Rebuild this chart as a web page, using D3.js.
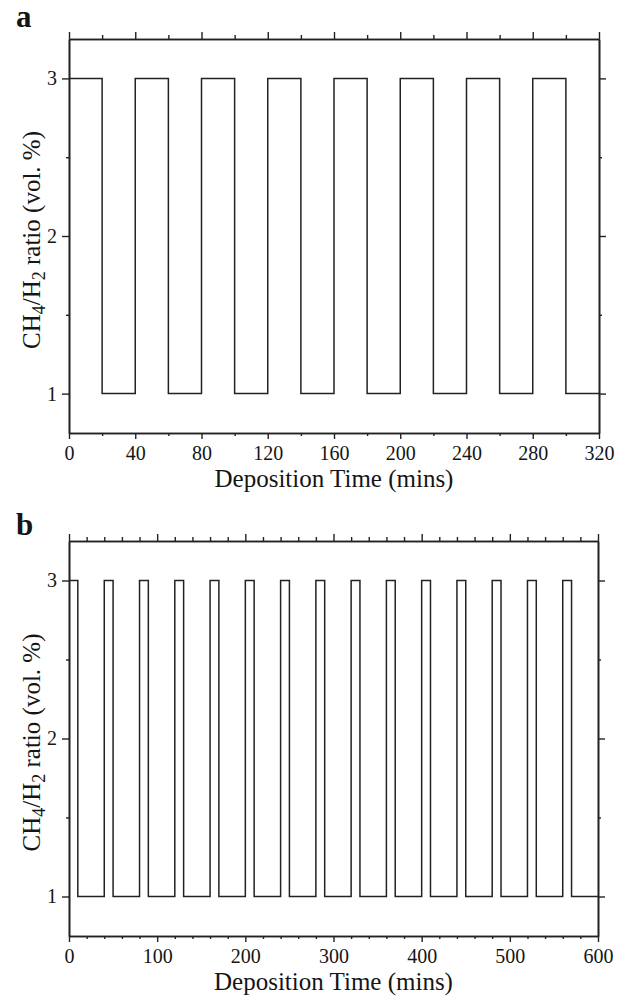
<!DOCTYPE html>
<html>
<head>
<meta charset="utf-8">
<script src="https://cdn.jsdelivr.net/npm/d3@7"></script>
<style>
  html, body { margin: 0; padding: 0; background: #fff; }
  svg { display: block; }
  text { font-family: "Liberation Serif", "Times New Roman", serif; fill: #151515; }
</style>
</head>
<body>
<svg id="chart" width="630" height="996"></svg>
<script>
// Panel a: 20 min high / 20 min low CH4/H2 cycling (step times in minutes)
const timeA  = [0, 20, 40, 60, 80, 100, 120, 140, 160, 180, 200, 220, 240, 260, 280, 300, 320];
const ratioA = [3, 1, 3, 1, 3, 1, 3, 1, 3, 1, 3, 1, 3, 1, 3, 1, 1];

// Panel b: 10 min high / 30 min low cycling
const timeB  = [0, 10, 40, 50, 80, 90, 120, 130, 160, 170, 200, 210, 240, 250, 280, 290,
                320, 330, 360, 370, 400, 410, 440, 450, 480, 490, 520, 530, 560, 570, 600];
const ratioB = [3, 1, 3, 1, 3, 1, 3, 1, 3, 1, 3, 1, 3, 1, 3, 1,
                3, 1, 3, 1, 3, 1, 3, 1, 3, 1, 3, 1, 3, 1, 1];

// Axis ticks
const xMajorA = [0, 40, 80, 120, 160, 200, 240, 280, 320];
const xMinorA = [20, 60, 100, 140, 180, 220, 260, 300];
const xMajorB = [0, 100, 200, 300, 400, 500, 600];
const xMinorB = [20, 40, 60, 80, 120, 140, 160, 180, 220, 240, 260, 280,
                 320, 340, 360, 380, 420, 440, 460, 480, 520, 540, 560, 580];
const yMajor = [1, 2, 3];
const yMinor = [1.5, 2.5];
const yDomain = [0.75, 3.25];

const svg = d3.select("#chart");
const ink = "#222";

function panel(cfg) {
  const x = d3.scaleLinear().domain(cfg.xDomain).range([cfg.left, cfg.right]);
  const y = d3.scaleLinear().domain(yDomain).range([cfg.bottom, cfg.top]);
  const g = svg.append("g");

  const styleAxis = sel => {
    sel.select(".domain").attr("stroke", ink).attr("stroke-width", 1.6);
    sel.selectAll(".tick line").attr("stroke", ink).attr("stroke-width", 1.4);
    sel.selectAll(".tick text")
      .attr("font-family", "Liberation Serif, Times New Roman, serif")
      .attr("font-size", 20).attr("fill", "#151515");
  };

  // bottom
  g.append("g").attr("transform", `translate(0,${cfg.bottom})`)
    .call(d3.axisBottom(x).tickValues(cfg.xMinor).tickSize(3).tickSizeOuter(0).tickFormat(""))
    .call(styleAxis);
  g.append("g").attr("transform", `translate(0,${cfg.bottom})`)
    .call(d3.axisBottom(x).tickValues(cfg.xMajor).tickSize(6).tickPadding(7).tickSizeOuter(0).tickFormat(d3.format("d")))
    .call(styleAxis);
  // top
  g.append("g").attr("transform", `translate(0,${cfg.top})`)
    .call(d3.axisTop(x).tickValues(cfg.xMinor).tickSize(4).tickSizeOuter(0).tickFormat(""))
    .call(styleAxis);
  g.append("g").attr("transform", `translate(0,${cfg.top})`)
    .call(d3.axisTop(x).tickValues(cfg.xMajor).tickSize(7).tickSizeOuter(0).tickFormat(""))
    .call(styleAxis);
  // left
  g.append("g").attr("transform", `translate(${cfg.left},0)`)
    .call(d3.axisLeft(y).tickValues(yMinor).tickSize(3).tickSizeOuter(0).tickFormat(""))
    .call(styleAxis);
  g.append("g").attr("transform", `translate(${cfg.left},0)`)
    .call(d3.axisLeft(y).tickValues(yMajor).tickSize(7).tickPadding(5).tickSizeOuter(0).tickFormat(d3.format("d")))
    .call(styleAxis);
  // right
  g.append("g").attr("transform", `translate(${cfg.right},0)`)
    .call(d3.axisRight(y).tickValues(yMinor).tickSize(3).tickSizeOuter(0).tickFormat(""))
    .call(styleAxis);
  g.append("g").attr("transform", `translate(${cfg.right},0)`)
    .call(d3.axisRight(y).tickValues(yMajor).tickSize(7).tickSizeOuter(0).tickFormat(""))
    .call(styleAxis);

  // step trace
  const pts = cfg.times.map((t, i) => [t, cfg.ratios[i]]);
  const line = d3.line().x(d => x(d[0])).y(d => y(d[1])).curve(d3.curveStepAfter);
  g.append("path").datum(pts)
    .attr("d", line)
    .attr("fill", "none")
    .attr("stroke", ink)
    .attr("stroke-width", 1.5);

  // x title
  g.append("text")
    .attr("x", (cfg.left + cfg.right) / 2)
    .attr("y", cfg.bottom + 54)
    .attr("text-anchor", "middle")
    .attr("font-size", 25)
    .text("Deposition Time (mins)");

  // y title with subscripts
  const yt = g.append("text")
    .attr("transform", `translate(40,${(cfg.top + cfg.bottom) / 2 + 4}) rotate(-90)`)
    .attr("text-anchor", "middle")
    .attr("font-size", 25);
  yt.append("tspan").text("CH");
  yt.append("tspan").attr("font-size", 18).attr("dy", 5).text("4");
  yt.append("tspan").attr("dy", -5).text("/H");
  yt.append("tspan").attr("font-size", 18).attr("dy", 5).text("2");
  yt.append("tspan").attr("dy", -5).text(" ratio (vol. %)");

  // panel letter
  g.append("text")
    .attr("x", 16).attr("y", cfg.letterY)
    .attr("font-size", 31).attr("font-weight", "bold")
    .text(cfg.letter);
}

panel({
  letter: "a", letterY: 27,
  xDomain: [0, 320], left: 69, right: 599, top: 39, bottom: 433,
  xMajor: xMajorA, xMinor: xMinorA, times: timeA, ratios: ratioA
});
panel({
  letter: "b", letterY: 535,
  xDomain: [0, 600], left: 69, right: 598, top: 541, bottom: 936,
  xMajor: xMajorB, xMinor: xMinorB, times: timeB, ratios: ratioB
});
</script>
</body>
</html>
